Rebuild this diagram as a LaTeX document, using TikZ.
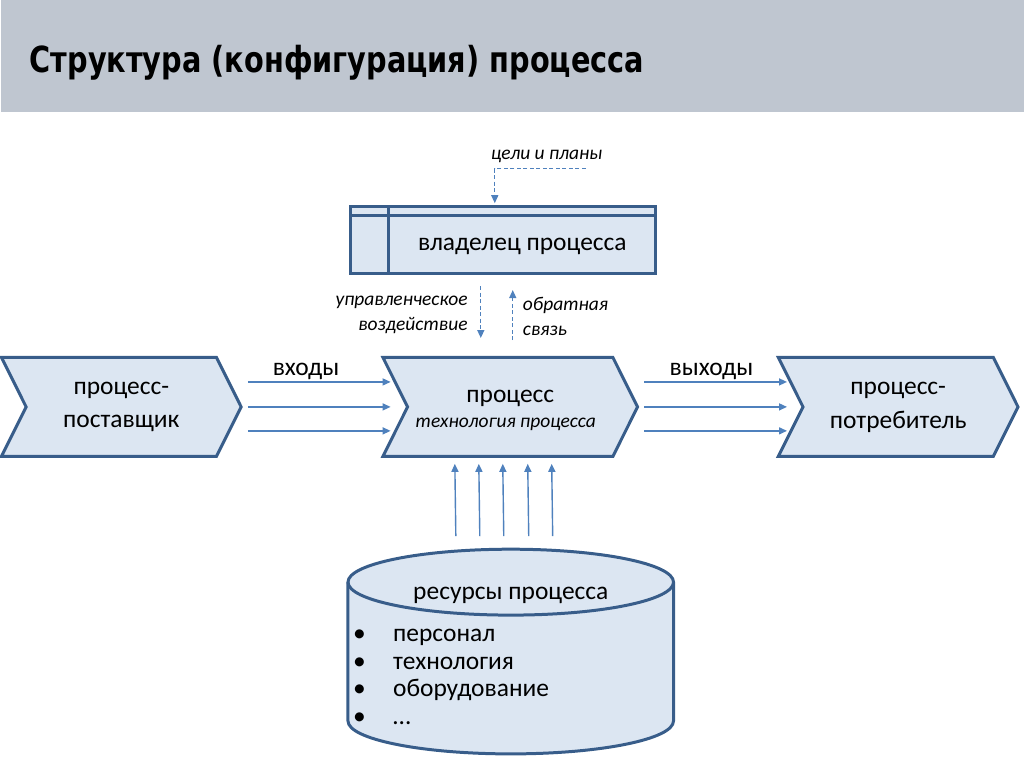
\documentclass[tikz,border=0pt]{standalone}
\usepackage{fontspec}
\setmainfont{Carlito}
\newfontfamily\titlefont[FakeStretch=0.8]{DejaVu Sans}
\usepackage{xcolor}
\usetikzlibrary{positioning,shapes.symbols,arrows.meta,calc}

\definecolor{boxfill}{HTML}{DCE6F2}
\definecolor{boxline}{HTML}{385D8A}
\definecolor{arrowblue}{HTML}{4F81BD}
\definecolor{headgray}{HTML}{BFC6D0}

\begin{document}
\begin{tikzpicture}[
    x=1pt, y=-1pt,
    >={Triangle[length=8pt,width=7pt]},
    chevron/.style={signal, signal from=west, signal to=east, signal pointer angle=127, draw=boxline, fill=boxfill, line width=3pt, minimum width=240, minimum height=99, inner sep=0pt, align=center, font=\fontsize{25.5}{34}\selectfont},
    ownerbox/.style={draw=boxline, fill=boxfill, line width=3pt, minimum width=305, minimum height=67, inner sep=0pt},
    maintext/.style={font=\fontsize{25.5}{30}\selectfont, inner sep=0pt},
    smalltext/.style={font=\itshape\fontsize{19.5}{25}\selectfont, inner sep=0pt},
    flow/.style={->, arrowblue, line width=1.4pt},
    dashedflow/.style={->, arrowblue, line width=1.4pt, dash pattern=on 4pt off 2.5pt, shorten >=2pt}
]

% header band
\fill[headgray] (0,0) rectangle (1024,112);
\node[anchor=base west, inner sep=0pt, font=\titlefont\bfseries\fontsize{36}{42}\selectfont] (title) at (28,73) {Структура (конфигурация) процесса};

% process owner
\node[smalltext] (goals) at (546,157) {цели и планы};
\node[ownerbox] (owner) at (502.5,240.5) {};
\draw[boxline, line width=3pt] ([yshift=-10]owner.north west) -- ([yshift=-10]owner.north east);
\draw[boxline, line width=3pt] ([xshift=39]owner.north west) -- ([xshift=39]owner.south west);
\node[maintext] (ownertext) at ($(owner.center)+(19,6)$) {владелец процесса};

% chevrons
\node[chevron] (supplier) at (120,407.5) {процесс-\\поставщик};
\node[chevron, minimum width=255] (process) at (509.5,407.5) {};
\node[maintext] (proctext) at (509.5,399) {процесс};
\node[smalltext] (techtext) at (505,425) {технология процесса};
\node[chevron] (consumer) at (898,407.5) {процесс-\\потребитель};

% goals and control flows
\coordinate (gstart) at (585,169);
\draw[dashedflow] (gstart) -| ([xshift=-8.5]owner.north);
\draw[dashedflow] ([xshift=-22.5,yshift=-11]owner.south) -- ([xshift=-29.5,yshift=16]process.north);
\draw[dashedflow] ([xshift=2.5,yshift=16]process.north) -- ([xshift=9.5,yshift=-13]owner.south);
\node[smalltext, anchor=east, align=right] (control) at (467,315) {управленческое\\воздействие};
\node[smalltext, anchor=west, align=left] (feedback) at (522,317) {обратная\\связь};

% inputs and outputs
\foreach \dy in {25,0,-24} {
  \draw[flow] ([xshift=5,yshift=\dy]supplier.east) -- ([xshift=148,yshift=\dy]supplier.east);
  \draw[flow] ([xshift=5,yshift=\dy]process.east) -- ([xshift=148,yshift=\dy]process.east);
}
\node[maintext] (inlabel) at (305,372) {входы};
\node[maintext] (outlabel) at (711,372) {выходы};

% resources
\draw[boxline, fill=boxfill, line width=3pt] (347,583) -- (347,722)
  arc[start angle=180, end angle=0, x radius=163, y radius=33] -- (673,583)
  arc[start angle=0, end angle=-180, x radius=163, y radius=33] -- cycle;
\draw[boxline, line width=3pt] (347,583) arc[start angle=180, end angle=0, x radius=163, y radius=33];
\coordinate (restop) at (510,550);
\node[maintext] (restext) at (510,596) {ресурсы процесса};
\node[maintext, anchor=north west, align=left, font=\fontsize{25.5}{27.7}\selectfont] (reslist) at (352,630)
  {\makebox[40pt][l]{•}персонал\\\makebox[40pt][l]{•}технология\\\makebox[40pt][l]{•}оборудование\\\makebox[40pt][l]{•}…};
\foreach \dx in {-55,-31,-7,18,42}
  \draw[flow] ([xshift=\dx,yshift=13]restop) -- ([xshift=\dx-0.5,yshift=-6]process.south);

\path[use as bounding box] (0,0) rectangle (1024,767);

\end{tikzpicture}
\end{document}
